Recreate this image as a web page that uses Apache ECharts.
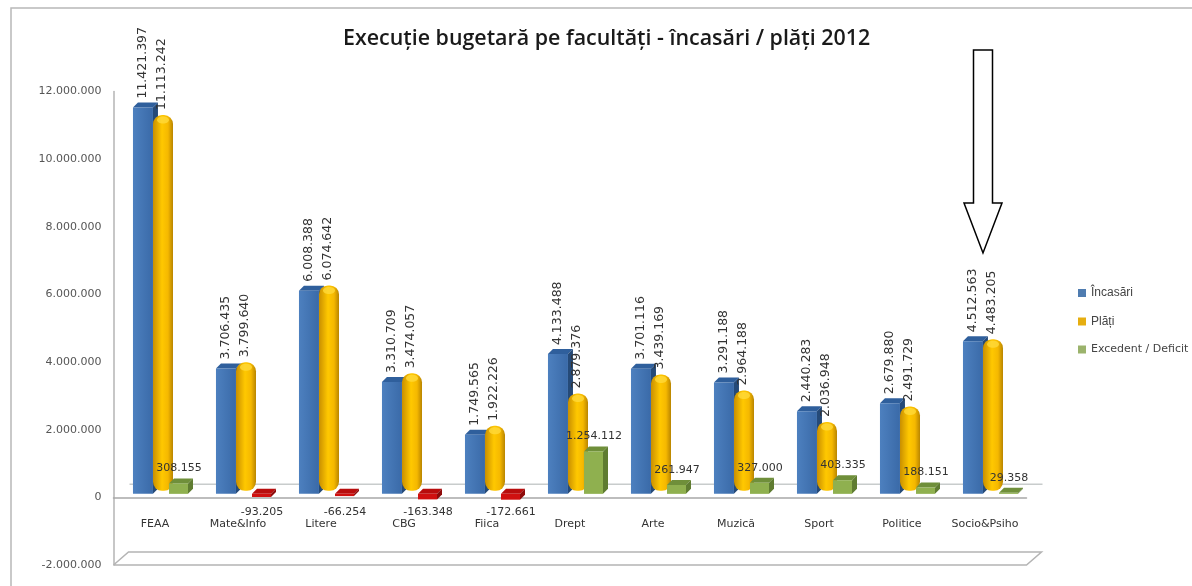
<!DOCTYPE html>
<html>
<head>
<meta charset="utf-8">
<title>Execuție bugetară</title>
<script src="https://cdn.jsdelivr.net/npm/echarts@6/dist/echarts.min.js"></script>
<style>
  html, body { margin: 0; padding: 0; background: #fff; }
  #chart { width: 1192px; height: 586px; }
</style>
</head>
<body>
<div id="chart"></div>
<script>
// date
const categories = ['FEAA', 'Mate&Info', 'Litere', 'CBG', 'Fiica', 'Drept', 'Arte', 'Muzică', 'Sport', 'Politice', 'Socio&Psiho'];
const incasari = [11421397, 3706435, 6008388, 3310709, 1749565, 4133488, 3701116, 3291188, 2440283, 2679880, 4512563];
const plati = [11113242, 3799640, 6074642, 3474057, 1922226, 2879376, 3439169, 2964188, 2036948, 2491729, 4483205];
const excedent = [308155, -93205, -66254, -163348, -172661, 1254112, 261947, 327000, 403335, 188151, 29358];
const seriesNames = ['Încasări', 'Plăți', 'Excedent / Deficit'];
const chartTitle = 'Execuție bugetară pe facultăți - încasări / plăți 2012';

const DEPTH_X = 5;
const DEPTH_Y = 5;
const LABEL_COLOR = '#333';

const fmt = (v) => String(v).replace(/\B(?=(\d{3})+$)/g, '.');
const pairs = (arr) => arr.map((v, i) => [i, v]);
const hGrad = (stops) => new echarts.graphic.LinearGradient(0, 0, 1, 0, stops);

// o cutie 3D: fata, capacul si latura din dreapta
function box(x, top, width, bottom, colors) {
  return [
    { type: 'polygon', shape: { points: [[x, top], [x + DEPTH_X, top - DEPTH_Y], [x + width + DEPTH_X, top - DEPTH_Y], [x + width, top]] }, style: { fill: colors.top } },
    { type: 'polygon', shape: { points: [[x + width, top], [x + width + DEPTH_X, top - DEPTH_Y], [x + width + DEPTH_X, bottom - DEPTH_Y], [x + width, bottom]] }, style: { fill: colors.side } },
    { type: 'rect', shape: { x: x, y: top, width: width, height: bottom - top }, style: { fill: colors.front } }
  ];
}

function rotatedLabel(x, y, value) {
  return {
    type: 'text', x: x, y: y, rotation: Math.PI / 2,
    style: { text: fmt(value), font: '12.5px "DejaVu Sans"', fill: LABEL_COLOR, align: 'left', verticalAlign: 'middle' }
  };
}

function renderIncasari(params, api) {
  const p = api.coord([api.value(0), api.value(1)]);
  const zero = api.coord([api.value(0), 0]);
  const band = api.size([1, 0])[0];
  const shift = -3.5;
  const x = zero[0] - 0.145 * band - 10;
  const top = p[1] + shift;
  const children = box(x, top, 20, zero[1] + shift, {
    front: hGrad([{ offset: 0, color: '#4d80bf' }, { offset: 1, color: '#3a6aa8' }]),
    top: '#2f5f9c', side: '#254a78'
  });
  children.push(rotatedLabel(zero[0] - 12, top - DEPTH_Y - 4, api.value(1)));
  return { type: 'group', children: children };
}

function renderPlati(params, api) {
  const p = api.coord([api.value(0), api.value(1)]);
  const zero = api.coord([api.value(0), 0]);
  const shift = -6.5;
  const w = 20;
  const x = zero[0] + 8 - w / 2;
  const top = p[1] + shift;
  return {
    type: 'group',
    children: [
      {
        type: 'rect', shape: { x: x, y: top, width: w, height: zero[1] + shift - top, r: 9 },
        style: { fill: hGrad([{ offset: 0, color: '#c98f00' }, { offset: 0.45, color: '#ffc800' }, { offset: 0.75, color: '#f5b800' }, { offset: 1, color: '#b98500' }]) }
      },
      { type: 'ellipse', shape: { cx: x + w / 2, cy: top + 5, rx: 6, ry: 3.5 }, style: { fill: '#ffd93a', opacity: 0.8 } },
      rotatedLabel(zero[0] + 7, top - 5, api.value(1))
    ]
  };
}

function renderExcedent(params, api) {
  const value = api.value(1);
  const p = api.coord([api.value(0), value]);
  const zero = api.coord([api.value(0), 0]);
  const shift = -3.5;
  const x = zero[0] + 14;
  const y0 = zero[1] + shift;
  const y1 = p[1] + shift;
  const top = Math.min(y0, y1);
  const bottom = Math.max(y0, y1);
  const colors = value >= 0
    ? { front: '#8fb04f', top: '#6f8f3a', side: '#5f7c31' }
    : { front: '#d01010', top: '#b80d0d', side: '#8e0a0a' };
  const children = box(x, top, 19, bottom, colors);
  children.push({
    type: 'text', x: zero[0] + 24,
    y: value >= 0 ? top - DEPTH_Y - 10 : zero[1] + 15,
    style: { text: fmt(value), font: '11px "DejaVu Sans"', fill: LABEL_COLOR, align: 'center', verticalAlign: 'middle' }
  });
  return { type: 'group', children: children };
}

// peretele din spate si podeaua, legate de axe
function renderFrame(params, api) {
  const band = api.size([1, 0])[0];
  const left = api.coord([0, 0])[0] - band / 2;
  const right = api.coord([categories.length - 1, 0])[0] + band / 2;
  const y0 = api.coord([0, 0])[1];
  const yMin = api.coord([0, -2000000])[1];
  const line = { stroke: '#b4b4b4', lineWidth: 1.5, fill: null };
  return {
    type: 'group',
    children: [
      { type: 'polyline', shape: { points: [[left + 16, y0 - 13], [right + 16, y0 - 13]] }, style: { stroke: '#c8cccc', lineWidth: 1.5, fill: null } },
      { type: 'polyline', shape: { points: [[left, yMin], [right, yMin], [right + 15, yMin - 13], [left + 15, yMin - 13], [left, yMin]] }, style: line }
    ]
  };
}

const chart = echarts.init(document.getElementById('chart'));

chart.setOption({
  backgroundColor: '#fff',
  animation: false,
  title: {
    text: chartTitle,
    left: 338,
    top: 23,
    textStyle: { fontFamily: 'Open Sans', fontSize: 21.4, fontWeight: 600, color: '#1a1a1a' }
  },
  legend: {
    orient: 'vertical',
    left: 1073,
    top: 282,
    itemWidth: 8,
    itemHeight: 8,
    itemGap: 16.5,
    selectedMode: false,
    icon: 'rect',
    data: [
      { name: seriesNames[0], textStyle: { fontFamily: 'Liberation Sans', fontSize: 12, color: '#444' } },
      { name: seriesNames[1], textStyle: { fontFamily: 'Liberation Sans', fontSize: 12, color: '#444' } },
      { name: seriesNames[2], textStyle: { fontFamily: 'DejaVu Sans', fontSize: 11, color: '#444' } }
    ]
  },
  grid: { left: 113.5, right: 165.5, top: 91.5, bottom: 21, outerBoundsMode: 'none' },
  xAxis: {
    type: 'category',
    data: categories,
    axisLine: { onZero: true, lineStyle: { color: '#a8a8a8', width: 1.5 } },
    axisTick: { show: false },
    axisLabel: { margin: -46, interval: 0, fontFamily: 'DejaVu Sans', fontSize: 11, color: '#333' }
  },
  yAxis: {
    type: 'value',
    min: -2000000,
    max: 12000000,
    interval: 2000000,
    splitLine: { show: false },
    axisTick: { show: false },
    axisLine: { show: true, lineStyle: { color: '#b4b4b4', width: 1.5 } },
    axisLabel: { margin: 12, fontFamily: 'DejaVu Sans', fontSize: 11, color: '#555', formatter: (v) => fmt(v) }
  },
  series: [
    { type: 'custom', name: 'frame', silent: true, z: 1, renderItem: renderFrame, data: [[0, 0]], encode: { x: 0, y: 1 } },
    { type: 'custom', name: seriesNames[0], silent: true, z: 2, renderItem: renderIncasari, data: pairs(incasari), encode: { x: 0, y: 1 }, itemStyle: { color: '#4f7cb0' } },
    { type: 'custom', name: seriesNames[1], silent: true, z: 3, renderItem: renderPlati, data: pairs(plati), encode: { x: 0, y: 1 }, itemStyle: { color: '#e6ae10' } },
    { type: 'custom', name: seriesNames[2], silent: true, z: 4, renderItem: renderExcedent, data: pairs(excedent), encode: { x: 0, y: 1 }, itemStyle: { color: '#9bb36c' } }
  ],
  graphic: [
    // chenarul imaginii
    { type: 'polyline', silent: true, shape: { points: [[11, 586], [11, 8], [1192, 8]] }, style: { stroke: '#b8b8b8', lineWidth: 1.5, fill: null } },
    // sageata de adnotare
    {
      type: 'polygon', silent: true, z: 10,
      shape: { points: [[973.5, 50], [992.5, 50], [992.5, 203], [1002, 203], [983, 253], [964, 203], [973.5, 203]] },
      style: { fill: '#fff', stroke: '#000', lineWidth: 1.5 }
    }
  ]
});
</script>
</body>
</html>
